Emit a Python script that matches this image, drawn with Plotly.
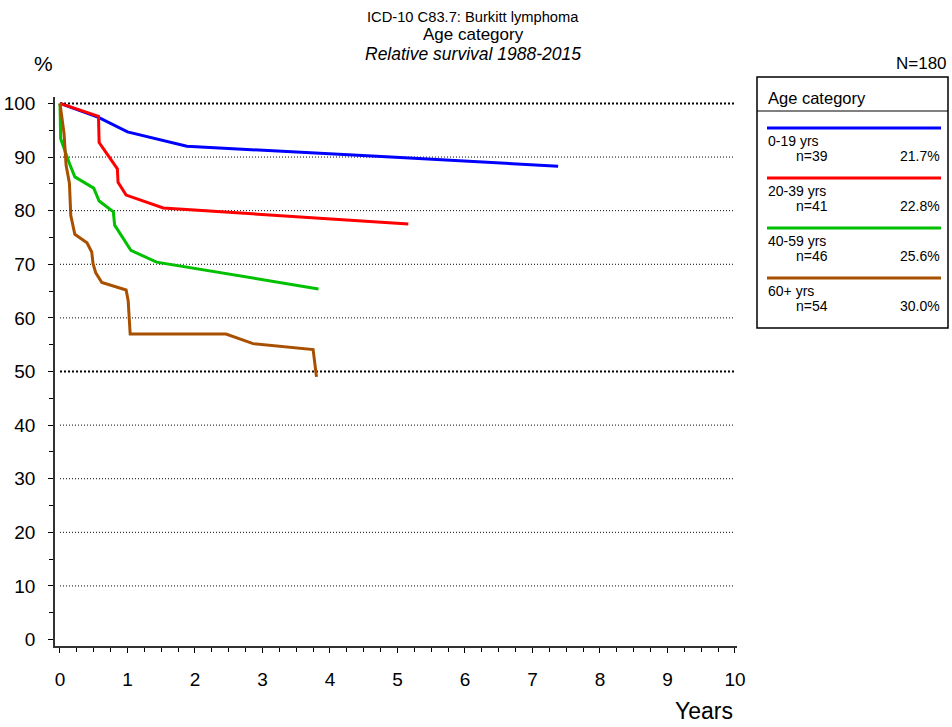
import plotly.graph_objects as go

# Relative survival by age category (years since diagnosis, % surviving)
groups = ["0-19 yrs", "20-39 yrs", "40-59 yrs", "60+ yrs"]
counts = ["n=39", "n=41", "n=46", "n=54"]
shares = ["21.7%", "22.8%", "25.6%", "30.0%"]
colors = ["#0000ff", "#ff0000", "#00c000", "#a85000"]

years_0_19 = [0, 0.57, 1.0, 1.88, 5.04, 7.38]
surv_0_19 = [100, 97.4, 94.7, 92.0, 89.9, 88.3]

years_20_39 = [0, 0.57, 0.58, 0.74, 0.85, 0.86, 0.98, 1.53, 5.16]
surv_20_39 = [100, 97.6, 92.7, 89.9, 87.8, 85.3, 82.9, 80.5, 77.5]

years_40_59 = [0, 0.01, 0.14, 0.22, 0.50, 0.58, 0.79, 0.81, 1.05, 1.43, 3.83]
surv_40_59 = [100, 93.4, 88.8, 86.3, 84.2, 81.8, 79.8, 77.3, 72.6, 70.4, 65.4]

years_60 = [0, 0.06, 0.09, 0.14, 0.16, 0.22, 0.40, 0.47, 0.49, 0.53, 0.62,
            0.98, 1.01, 1.04, 2.46, 2.86, 3.75, 3.80]
surv_60 = [100, 94.4, 88.5, 85.1, 79.1, 75.6, 74.0, 72.3, 70.1, 68.4, 66.6,
           65.2, 63.2, 57.0, 57.0, 55.2, 54.1, 49.0]

series_x = [years_0_19, years_20_39, years_40_59, years_60]
series_y = [surv_0_19, surv_20_39, surv_40_59, surv_60]

y_ticks = list(range(0, 101, 10))
x_ticks = list(range(0, 11))

W, H = 952, 727
ML, MR, MT, MB = 55, 215, 97, 81
PW, PH = W - ML - MR, H - MT - MB
FONT = "Liberation Sans, Arial, sans-serif"


def px(x):
    return (x - ML) / PW


def py(y):
    return (H - MB - y) / PH


def label(text, x, y, size, anchor="center", italic=False):
    if italic:
        text = "<i>" + text + "</i>"
    return dict(text=text, xref="paper", yref="paper", x=px(x), y=py(y),
                xanchor=anchor, yanchor="middle", showarrow=False,
                font=dict(size=size, color="black", family=FONT))


fig = go.Figure()

# dotted horizontal reference lines at every 10 %
shapes = []
for v in y_ticks[1:]:
    bold = v in (50, 100)
    shapes.append(dict(type="line", xref="x", yref="y", x0=0, x1=10, y0=v, y1=v,
                       line=dict(color="black", width=2 if bold else 1,
                                 dash="2px,2px" if bold else "1px,2px"),
                       layer="below"))

for name, xs, ys, c in zip(groups, series_x, series_y, colors):
    fig.add_trace(go.Scatter(x=xs, y=ys, mode="lines", name=name,
                             line=dict(color=c, width=3), showlegend=False))

# legend box
lx0, lx1, ly0, ly1 = 757, 948, 77, 328
shapes.append(dict(type="rect", xref="paper", yref="paper",
                   x0=px(lx0), x1=px(lx1), y0=py(ly1), y1=py(ly0),
                   line=dict(color="black", width=1.5), fillcolor="white"))
shapes.append(dict(type="line", xref="paper", yref="paper",
                   x0=px(lx0), x1=px(lx1), y0=py(111), y1=py(111),
                   line=dict(color="black", width=1)))

annotations = [
    label("ICD-10 C83.7: Burkitt lymphoma", 473, 17, 14.7),
    label("Age category", 473, 34.5, 17),
    label("Relative survival 1988-2015", 473, 53.5, 17.5, italic=True),
    label("%", 43, 63, 21),
    label("N=180", 949, 63, 17, anchor="right"),
    label("Years", 735, 711, 23, anchor="right"),
    label("Age category", 766, 98, 16.5, anchor="left"),
]

for i, (g, n, s, c) in enumerate(zip(groups, counts, shares, colors)):
    top = 128 + i * 50
    shapes.append(dict(type="line", xref="paper", yref="paper",
                       x0=px(767), x1=px(941), y0=py(top), y1=py(top),
                       line=dict(color=c, width=3)))
    annotations.append(label(g, 766, top + 13, 14, anchor="left"))
    annotations.append(label(n, 794, top + 28, 14, anchor="left"))
    annotations.append(label(s, 942, top + 28, 14, anchor="right"))

fig.update_layout(
    width=W, height=H,
    margin=dict(l=ML, r=MR, t=MT, b=MB, pad=0),
    paper_bgcolor="white", plot_bgcolor="white",
    font=dict(family=FONT, color="black"),
    shapes=shapes, annotations=annotations,
    showlegend=False,
    xaxis=dict(range=[-0.074, 10.03], tickvals=x_ticks, ticktext=[str(v) for v in x_ticks],
               showgrid=False, zeroline=False, showline=True, linecolor="#333333", linewidth=1.5,
               ticks="outside", ticklen=5, tickwidth=1, tickcolor="black",
               tickfont=dict(size=19), ticklabelstandoff=10, automargin=False,
               minor=dict(dtick=0.25, tick0=0, ticks="outside", ticklen=4,
                          tickcolor="black", tickwidth=1, showgrid=False)),
    yaxis=dict(range=[-1.2, 101.2], tickvals=y_ticks, ticktext=[str(v) for v in y_ticks],
               showgrid=False, zeroline=False, showline=True, linecolor="#333333", linewidth=1.5,
               ticks="outside", ticklen=5, tickwidth=1, tickcolor="black",
               tickfont=dict(size=19), ticklabelstandoff=9, automargin=False,
               minor=dict(dtick=5, tick0=0, ticks="outside", ticklen=4,
                          tickcolor="black", tickwidth=1, showgrid=False)),
)

fig.write_html("out.html")
